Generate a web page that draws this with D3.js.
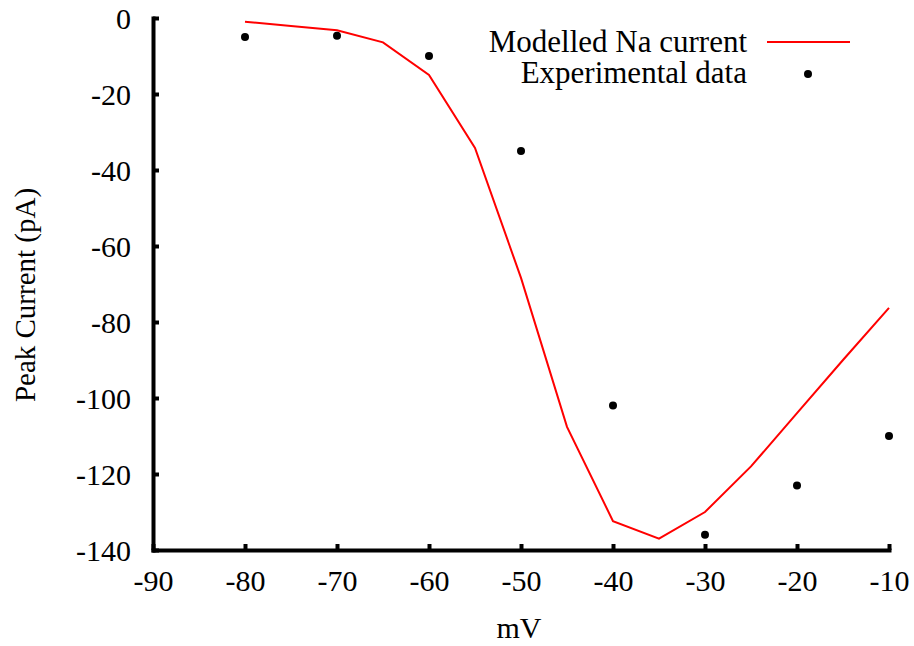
<!DOCTYPE html>
<html>
<head>
<meta charset="utf-8">
<script src="https://cdn.jsdelivr.net/npm/d3@7"></script>
<style>
  body { margin: 0; background: #fff; }
  svg text { font-family: "Liberation Serif", "Times New Roman", serif; fill: #000; }
</style>
</head>
<body>
<svg class="chart"></svg>
<script>
var modelV = [-80, -75, -70, -65, -60, -55, -50, -45, -40, -35, -30, -25, -20, -15, -10];
var modelI = [-1, -2.1, -3.2, -6.4, -15, -34.2, -68.4, -107.6, -132.4, -137, -130, -118, -104, -90, -76.3];
var expV = [-80, -70, -60, -50, -40, -30, -20, -10];
var expI = [-5, -4.7, -10, -35, -102, -136, -123, -110];
var xTicks = [-90, -80, -70, -60, -50, -40, -30, -20, -10];
var yTicks = [0, -20, -40, -60, -80, -100, -120, -140];

var W = 914, H = 646;
var margin = {top: 18, right: 25, bottom: 96, left: 153},
    width = W - margin.left - margin.right,
    height = H - margin.top - margin.bottom;

var x = d3.scaleLinear().domain([-90, -10]).range([0, width]);
var y = d3.scaleLinear().domain([-140, 0]).range([height, 0]);

var svg = d3.select(".chart").attr("width", W).attr("height", H);
var chart = svg.append("g")
    .attr("transform", "translate(" + margin.left + "," + margin.top + ")");

// plain hyphen, like the original
var fmt = function(d) { return String(d); };

var xAxis = d3.axisBottom(x).tickValues(xTicks).tickFormat(fmt)
    .tickSizeInner(-6).tickSizeOuter(0).tickPadding(20);
var yAxis = d3.axisLeft(y).tickValues(yTicks).tickFormat(fmt)
    .tickSizeInner(-6).tickSizeOuter(0).tickPadding(22);

var gx = chart.append("g")
    .attr("transform", "translate(0," + height + ")")
    .call(xAxis);
var gy = chart.append("g").call(yAxis);

[gx, gy].forEach(function(g) {
  g.attr("font-family", null).attr("font-size", null);
  g.select(".domain").attr("stroke", "#000").attr("stroke-width", 4).attr("stroke-linecap", "square");
  g.selectAll(".tick line").attr("stroke", "#000").attr("stroke-width", 4);
  g.selectAll(".tick text")
    .style("font-size", "30px")
    .attr("fill", "#000");
});
gx.selectAll(".tick text").attr("dy", "0.71em");
gy.selectAll(".tick text").attr("dy", "0.35em");

var line = d3.line()
    .x(function(d) { return x(d[0]); })
    .y(function(d) { return y(d[1]); });

chart.append("path")
    .datum(d3.zip(modelV, modelI))
    .attr("fill", "none")
    .attr("stroke", "#ff0000")
    .attr("stroke-width", 2)
    .attr("d", line);

chart.selectAll(".dot")
    .data(d3.zip(expV, expI))
  .enter().append("circle")
    .attr("class", "dot")
    .attr("cx", function(d) { return x(d[0]); })
    .attr("cy", function(d) { return y(d[1]); })
    .attr("r", 4)
    .attr("fill", "#000");

// legend
var legend = svg.append("g");
legend.append("text")
    .attr("x", 747).attr("y", 52)
    .attr("text-anchor", "end")
    .style("font-size", "31px")
    .text("Modelled Na current");
legend.append("line")
    .attr("x1", 767).attr("x2", 850).attr("y1", 42).attr("y2", 42)
    .attr("stroke", "#ff0000").attr("stroke-width", 2);
legend.append("text")
    .attr("x", 747).attr("y", 83)
    .attr("text-anchor", "end")
    .style("font-size", "31px")
    .text("Experimental data");
legend.append("circle")
    .attr("cx", 808).attr("cy", 74).attr("r", 4).attr("fill", "#000");

// axis labels
svg.append("text")
    .attr("transform", "translate(35,295) rotate(-90)")
    .attr("text-anchor", "middle")
    .style("font-size", "29px")
    .text("Peak Current (pA)");
svg.append("text")
    .attr("x", 519).attr("y", 638)
    .attr("text-anchor", "middle")
    .style("font-size", "30px")
    .text("mV");
</script>
</body>
</html>
